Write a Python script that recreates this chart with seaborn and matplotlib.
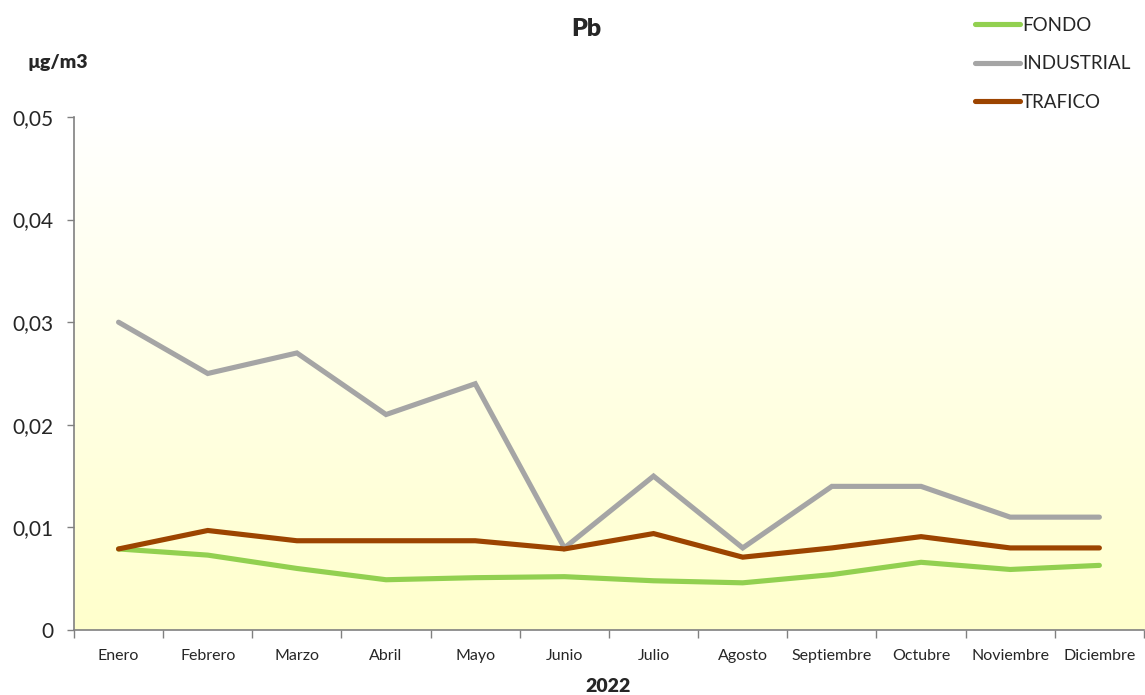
import numpy as np
import pandas as pd
import seaborn as sns
import matplotlib.pyplot as plt
from matplotlib.colors import LinearSegmentedColormap

# datos
meses = ['Enero', 'Febrero', 'Marzo', 'Abril', 'Mayo', 'Junio', 'Julio',
         'Agosto', 'Septiembre', 'Octubre', 'Noviembre', 'Diciembre']
fondo = [0.0079, 0.0073, 0.0060, 0.0049, 0.0051, 0.0052, 0.0048,
         0.0046, 0.0054, 0.0066, 0.0059, 0.0063]
industrial = [0.030, 0.025, 0.027, 0.021, 0.024, 0.008, 0.015,
              0.008, 0.014, 0.014, 0.011, 0.011]
trafico = [0.0079, 0.0097, 0.0087, 0.0087, 0.0087, 0.0079, 0.0094,
           0.0071, 0.0080, 0.0091, 0.0080, 0.0080]
y_ticks = [0, 0.01, 0.02, 0.03, 0.04, 0.05]
y_labels = ['0', '0,01', '0,02', '0,03', '0,04', '0,05']

df = pd.DataFrame({'Mes': meses * 3,
                   'x': list(range(12)) * 3,
                   'valor': fondo + industrial + trafico,
                   'Zona': ['FONDO'] * 12 + ['INDUSTRIAL'] * 12 + ['TRAFICO'] * 12})

sns.set_style('white')
plt.rcParams['font.family'] = ['Lato', 'DejaVu Sans']

fig = plt.figure(figsize=(11.45, 6.95), dpi=100)
ax = fig.add_axes([0.0646, 0.0935, 0.9345, 0.7382])

# fondo degradado
cmap = LinearSegmentedColormap.from_list('deg', ['#FFFFFF', '#FFFFCC'])
grad = np.linspace(0, 1, 256).reshape(-1, 1)
ax.imshow(grad, cmap=cmap, aspect='auto', extent=[0, 1, 0, 1],
          transform=ax.transAxes, zorder=0, origin='upper')

colores = {'FONDO': '#92D050', 'INDUSTRIAL': '#A5A5A5', 'TRAFICO': '#9C4400'}
sns.lineplot(data=df, x='x', y='valor', hue='Zona', palette=colores,
             linewidth=3.7, ax=ax, legend=False, zorder=3)
for l in ax.lines:
    l.set_solid_capstyle('round')
    l.set_solid_joinstyle('miter')

ax.set_xlim(-0.5, 11.5)
ax.set_ylim(0, 0.05)
ax.set_xticks(range(12))
ax.set_xticklabels(meses, fontsize=11.5)
ax.set_xticks(np.arange(-0.5, 12, 1), minor=True)
ax.tick_params(axis='x', which='major', length=0, pad=14)
ax.tick_params(axis='x', which='minor', length=6, width=1, color='#808080', direction='out', bottom=True)
ax.set_yticks(y_ticks)
ax.set_yticklabels(y_labels, fontsize=15)
ax.tick_params(axis='y', length=5, width=1, color='#808080', direction='out', left=True, pad=10)

for s in ['top', 'right']:
    ax.spines[s].set_visible(False)
for s in ['left', 'bottom']:
    ax.spines[s].set_color('#808080')
    ax.spines[s].set_linewidth(1.2)

ax.set_xlabel('')
ax.set_ylabel('')
fig.text(0.531, 0.0, '2022', fontsize=14, fontweight='heavy', ha='center', va='bottom')
fig.text(0.024, 0.91, 'µg/m3', fontsize=14, fontweight='heavy', ha='left', va='center')
fig.text(0.512, 0.958, 'Pb', fontsize=18, fontweight='heavy', ha='center', va='center')

# leyenda
handles = [plt.Line2D([], [], color=colores[k], linewidth=3.7, solid_capstyle='round') for k in colores]
fig.legend(handles, list(colores.keys()), loc='upper left', bbox_to_anchor=(0.837, 1.0),
           frameon=False, fontsize=13.5, handlelength=2.4, handletextpad=0.1,
           labelspacing=1.15)

plt.savefig('out.png', dpi=100)
